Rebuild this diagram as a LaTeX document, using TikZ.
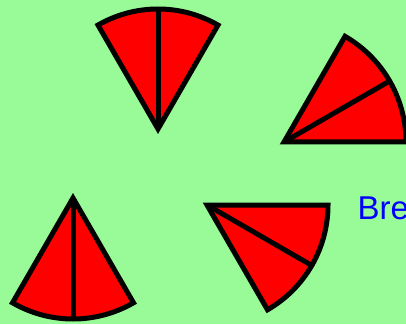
\documentclass[tikz,border=0pt]{standalone}
\usepackage{fontspec}
\setmainfont{Liberation Sans}
\usetikzlibrary{calc}
\definecolor{bg}{RGB}{152,251,152}
\definecolor{txtblue}{RGB}{0,0,255}
\begin{document}
\begin{tikzpicture}[x=1pt,y=1pt,
  sector/.style={fill=red,draw=black,line width=5pt},
  divider/.style={draw=black,line width=5pt},
  label/.style={text=txtblue,font=\fontsize{33}{40}\selectfont,inner sep=0pt,anchor=base west}]
\useasboundingbox (0,0) rectangle (406,324);
\fill[bg] (0,0) rectangle (406,324);
% top sector
\coordinate (v1) at (158,195);
\filldraw[sector] (v1) -- ++(60:120) arc[start angle=60,end angle=120,radius=120] -- cycle;
\coordinate (m1) at ($(v1)+(90:120)$);
\draw[divider] (v1) -- (m1);
% top-right sector
\coordinate (v2) at (284,182);
\filldraw[sector] (v2) -- ++(0:122) arc[start angle=0,end angle=60,radius=122] -- cycle;
\coordinate (m2) at ($(v2)+(30:122)$);
\draw[divider] (v2) -- (m2);
% bottom-left sector
\coordinate (v3) at (73,126);
\filldraw[sector] (v3) -- ++(240:121) arc[start angle=240,end angle=300,radius=121] -- cycle;
\coordinate (m3) at ($(v3)+(270:121)$);
\draw[divider] (v3) -- (m3);
% bottom-middle sector
\coordinate (v4) at (207,119);
\filldraw[sector] (v4) -- ++(-60:121) arc[start angle=-60,end angle=0,radius=121] -- cycle;
\coordinate (m4) at ($(v4)+(-30:121)$);
\draw[divider] (v4) -- (m4);
% text
\node[label] (t) at (357.5,104.7) {Bre};
\end{tikzpicture}
\end{document}
